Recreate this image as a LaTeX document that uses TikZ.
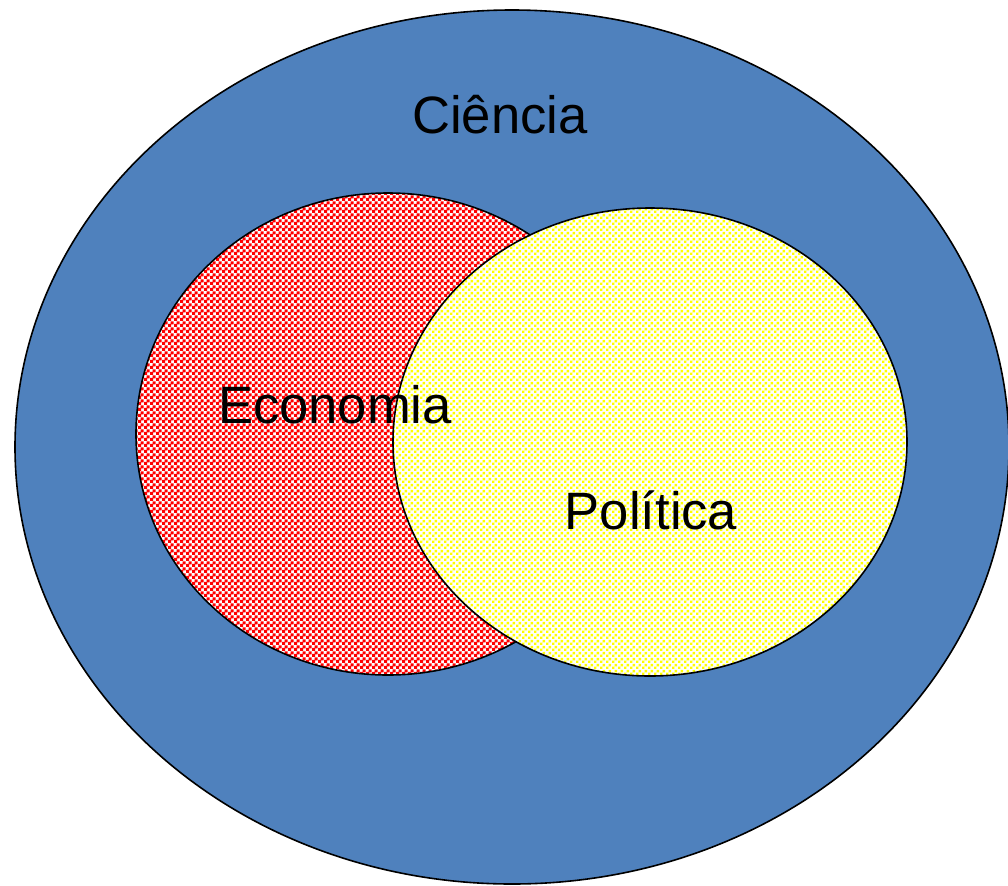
\documentclass[tikz,border=0pt]{standalone}
\usepackage{fontspec}
\setmainfont{Liberation Sans}
\usetikzlibrary{patterns}
\definecolor{cienciablue}{RGB}{79,129,189}
\pgfdeclarepatternformonly{fine checker}{\pgfqpoint{0pt}{0pt}}{\pgfqpoint{3pt}{3pt}}{\pgfqpoint{3pt}{3pt}}{%
  \pgfpathrectangle{\pgfqpoint{0pt}{0pt}}{\pgfqpoint{1.75pt}{1.75pt}}%
  \pgfpathrectangle{\pgfqpoint{1.5pt}{1.5pt}}{\pgfqpoint{1.75pt}{1.75pt}}%
  \pgfusepath{fill}}
\pgfdeclarepatternformonly{fine dots}{\pgfqpoint{0pt}{0pt}}{\pgfqpoint{3pt}{3pt}}{\pgfqpoint{3pt}{3pt}}{%
  \pgfpathrectangle{\pgfqpoint{0.1pt}{0.1pt}}{\pgfqpoint{1.35pt}{1.35pt}}%
  \pgfpathrectangle{\pgfqpoint{1.6pt}{1.6pt}}{\pgfqpoint{1.35pt}{1.35pt}}%
  \pgfusepath{fill}}
\tikzset{
  label text/.style={font=\fontsize{26.3pt}{30pt}\selectfont, inner sep=0pt},
}

\begin{document}
\begin{tikzpicture}[x=0.5pt, y=-0.5pt, line join=round]
    \useasboundingbox (0,0) rectangle (1008,885);
    \coordinate (O) at (512,447);
    \coordinate (E) at (388,434);
    \coordinate (P) at (650,442);
    \draw[fill=cienciablue, line width=0.8pt] (O) ellipse [x radius=497, y radius=437];
    \draw[line width=0.8pt, preaction={fill=white}, pattern=fine checker, pattern color=red]
        (E) ellipse [x radius=252, y radius=241];
    \draw[line width=0.8pt, preaction={fill=white}, pattern=fine dots, pattern color=yellow]
        (P) ellipse [x radius=257, y radius=234];
    \node[label text] (ciencia) at (500,115) {Ciência};
    \node[label text] (economia) at (335,405) {Economia};
    \node[label text] (politica) at (651,510) {Política};
\end{tikzpicture}
\end{document}
